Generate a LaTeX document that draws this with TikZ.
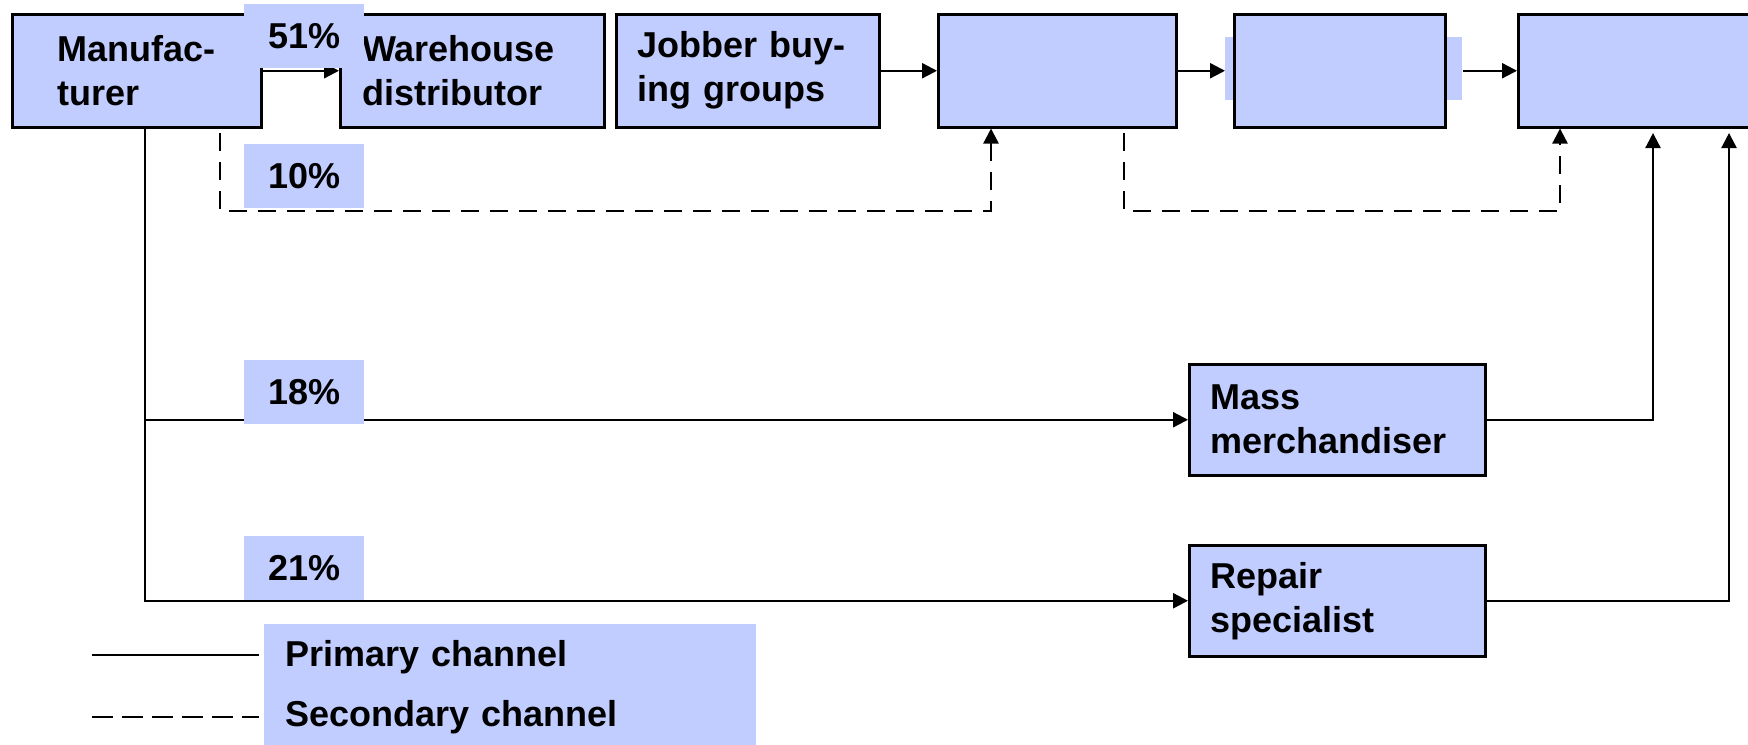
\documentclass[tikz,border=0pt]{standalone}
\usepackage{fontspec}
\setmainfont{Liberation Sans}
\usetikzlibrary{arrows.meta}
\definecolor{boxblue}{RGB}{193,205,255}
\begin{document}
\begin{tikzpicture}[x=0.5pt,y=-0.5pt,
  every node/.style={font=\fontsize{18pt}{22pt}\selectfont\bfseries},
  card/.style={draw=black, fill=boxblue, line width=1.25pt, anchor=north west,
    inner sep=0pt, minimum height=56.5pt},
  tag/.style={fill=boxblue, anchor=north west, inner sep=0pt,
    minimum width=60pt, minimum height=32pt},
  share/.style={tag, text depth=0pt},
  pri/.style={line width=1.15pt, -{Triangle[length=7.5pt,width=7.5pt]}},
  sec/.style={pri, dash pattern=on 9pt off 5.5pt},
  key/.style={line width=1.15pt},
]
\useasboundingbox (0,0) rectangle (1748,744);
\clip (0,0) rectangle (1748,744);

% upper chain of channel members
\node[card, minimum width=124.5pt, align=left] (mfr) at (11,13) {Manufac-\\turer};
\node[card, minimum width=132pt, text width=110pt, inner xsep=11pt, align=left] (wh) at (339,13) {Warehouse\\distributor};
\node[card, minimum width=131.5pt, text width=110.5pt, inner xsep=10.5pt, align=left] (jb) at (615,13) {Jobber buy-\\ing groups};
\node[card, minimum width=119pt] (b1) at (937,13) {};
\node[tag, minimum width=118.5pt, minimum height=31.5pt] (b2bg) at (1225,37) {};
\node[card, minimum width=105.5pt] (b2) at (1233,13) {};
\node[card, minimum width=120pt] (b3) at (1517,13) {};

% lower members
\node[card, minimum width=148pt, minimum height=55.5pt, text width=127pt, inner xsep=10.5pt, align=left] (mass) at (1188,363) {Mass\\merchandiser};
\node[card, minimum width=148pt, minimum height=55.5pt, text width=127pt, inner xsep=10.5pt, align=left] (rep) at (1188,544) {Repair\\specialist};

% primary flows along the top
\draw[pri] (mfr.east) -- (wh.west);
\draw[pri] (jb.east) -- (b1.west);
\draw[pri] (b1.east) -- (b1.east -| b2bg.west);
\draw[pri] (b1.east -| b2bg.east) -- (b1.east -| b3.west);

% secondary flows
\coordinate (d1s) at (220,133);
\coordinate (d1c) at (991,211);
\draw[sec] (d1s) |- (d1c) -- (d1c |- b1.south);
\coordinate (d2s) at (1124,133);
\coordinate (d2c) at (1560,211);
\draw[sec] (d2s) |- (d2c) -- (d2c |- b3.south);

% primary flows through the lower members
\coordinate (trunk) at (145,129);
\draw[pri] (trunk) |- (mass.west);
\draw[pri] (trunk) |- (rep.west);
\coordinate (m3) at (1653,133);
\coordinate (r3) at (1729,133);
\draw[pri] (mass.east) -| (m3);
\draw[pri] (rep.east) -| (r3);

% shares
\node[share] (p51) at (244,4) {51\%};
\node[share] (p10) at (244,144) {10\%};
\node[share] (p18) at (244,360) {18\%};
\node[share] (p21) at (244,536) {21\%};

% key
\coordinate (kp0) at (92,655);
\coordinate (kp1) at (259,655);
\coordinate (ks0) at (92,717);
\coordinate (ks1) at (259,717);
\draw[key] (kp0) -- (kp1);
\draw[key, dash pattern=on 10.5pt off 4.5pt] (ks0) -- (ks1);
\node[tag, minimum width=246pt, minimum height=63pt, text width=225pt, inner xsep=10.5pt,
  align=left, font=\fontsize{18pt}{30pt}\selectfont\bfseries] (legend) at (264,624)
  {Primary channel\\Secondary channel};
\end{tikzpicture}
\end{document}
